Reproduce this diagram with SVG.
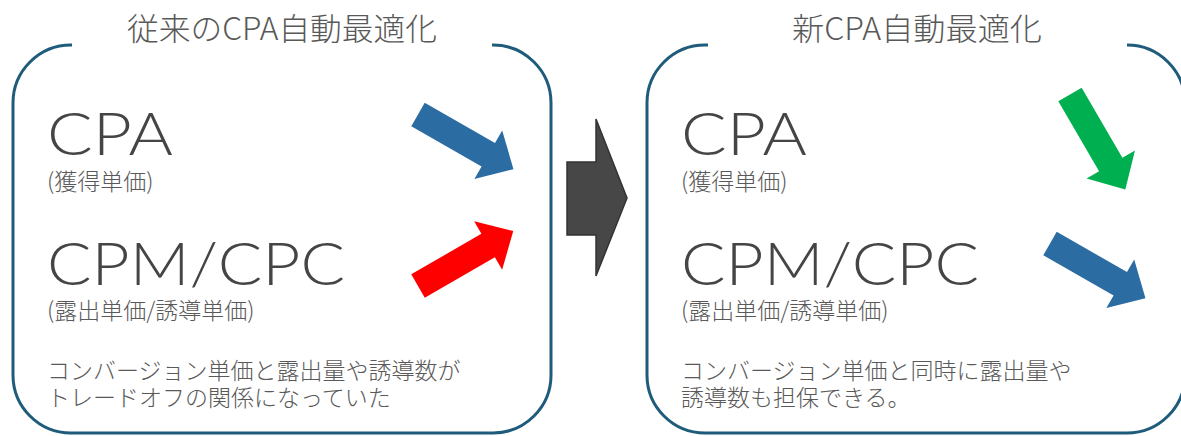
<svg xmlns="http://www.w3.org/2000/svg" width="1181" height="436" viewBox="0 0 1181 436">
<style>
.box{fill:none;stroke:#1F5B7A;stroke-width:3}
.title{font-family:"Noto Sans CJK JP","Liberation Sans",sans-serif;font-size:31px;fill:#595959;text-anchor:middle;font-weight:300}
.big{font-family:"Lato","Liberation Sans",sans-serif;font-size:60px;fill:#454545;font-weight:300}
.sub{font-family:"Noto Sans CJK JP","Liberation Sans",sans-serif;font-size:23px;fill:#595959;font-weight:300}
.body{font-family:"Noto Sans CJK JP","Liberation Sans",sans-serif;font-size:23px;fill:#595959;font-weight:300}
.blue{fill:#2B6CA3}
.red{fill:#FF0000}
.green{fill:#00B050}
.dark{fill:#474747;stroke:#333333;stroke-width:1.5;stroke-linejoin:miter}
</style>
<defs>
<polygon id="arr" points="0,-13.5 81,-13.5 81,-28 110,0 81,28 81,13.5 0,13.5"/>
</defs>
<g id="old-box">
<path class="box" d="M72,45 L71,45 A58,58 0 0 0 13,103 L13,375 A58,58 0 0 0 71,433 L493,433 A58,58 0 0 0 551,375 L551,103 A58,58 0 0 0 493,45 L492,45"/>
<text class="title" x="282" y="40" textLength="310" lengthAdjust="spacingAndGlyphs">従来のCPA自動最適化</text>
<text class="big" x="47" y="155" textLength="126" lengthAdjust="spacingAndGlyphs">CPA</text>
<text class="sub" x="47" y="190">(獲得単価)</text>
<text class="big" x="47" y="285" textLength="298" lengthAdjust="spacingAndGlyphs">CPM/CPC</text>
<text class="sub" x="47" y="319">(露出単価/誘導単価)</text>
<text class="body" x="47" y="379">コンバージョン単価と露出量や誘導数が</text>
<text class="body" x="47" y="406">トレードオフの関係になっていた</text>
</g>
<g id="new-box">
<path class="box" d="M708,45 L705,45 A58,58 0 0 0 647,103 L647,375 A58,58 0 0 0 705,433 L1127,433 A58,58 0 0 0 1185,375 L1185,103 A58,58 0 0 0 1127,45"/>
<text class="title" x="917" y="40" textLength="250" lengthAdjust="spacingAndGlyphs">新CPA自動最適化</text>
<text class="big" x="681" y="155" textLength="126" lengthAdjust="spacingAndGlyphs">CPA</text>
<text class="sub" x="681" y="190">(獲得単価)</text>
<text class="big" x="681" y="285" textLength="298" lengthAdjust="spacingAndGlyphs">CPM/CPC</text>
<text class="sub" x="681" y="319">(露出単価/誘導単価)</text>
<text class="body" x="681" y="379">コンバージョン単価と同時に露出量や</text>
<text class="body" x="681" y="406">誘導数も担保できる。</text>
</g>
<g id="connectors">
<use href="#arr" class="blue" transform="translate(418,114.5) rotate(29.8)"/>
<use href="#arr" class="red" transform="translate(418,286) rotate(-30)"/>
<use href="#arr" class="green" transform="translate(1070,94.5) rotate(59.8)"/>
<use href="#arr" class="blue" transform="translate(1050,243.5) rotate(29.8)"/>
<polygon class="dark" points="567,162 596,162 596,119 627,198 596,276 596,235 567,235"/>
</g>
</svg>
